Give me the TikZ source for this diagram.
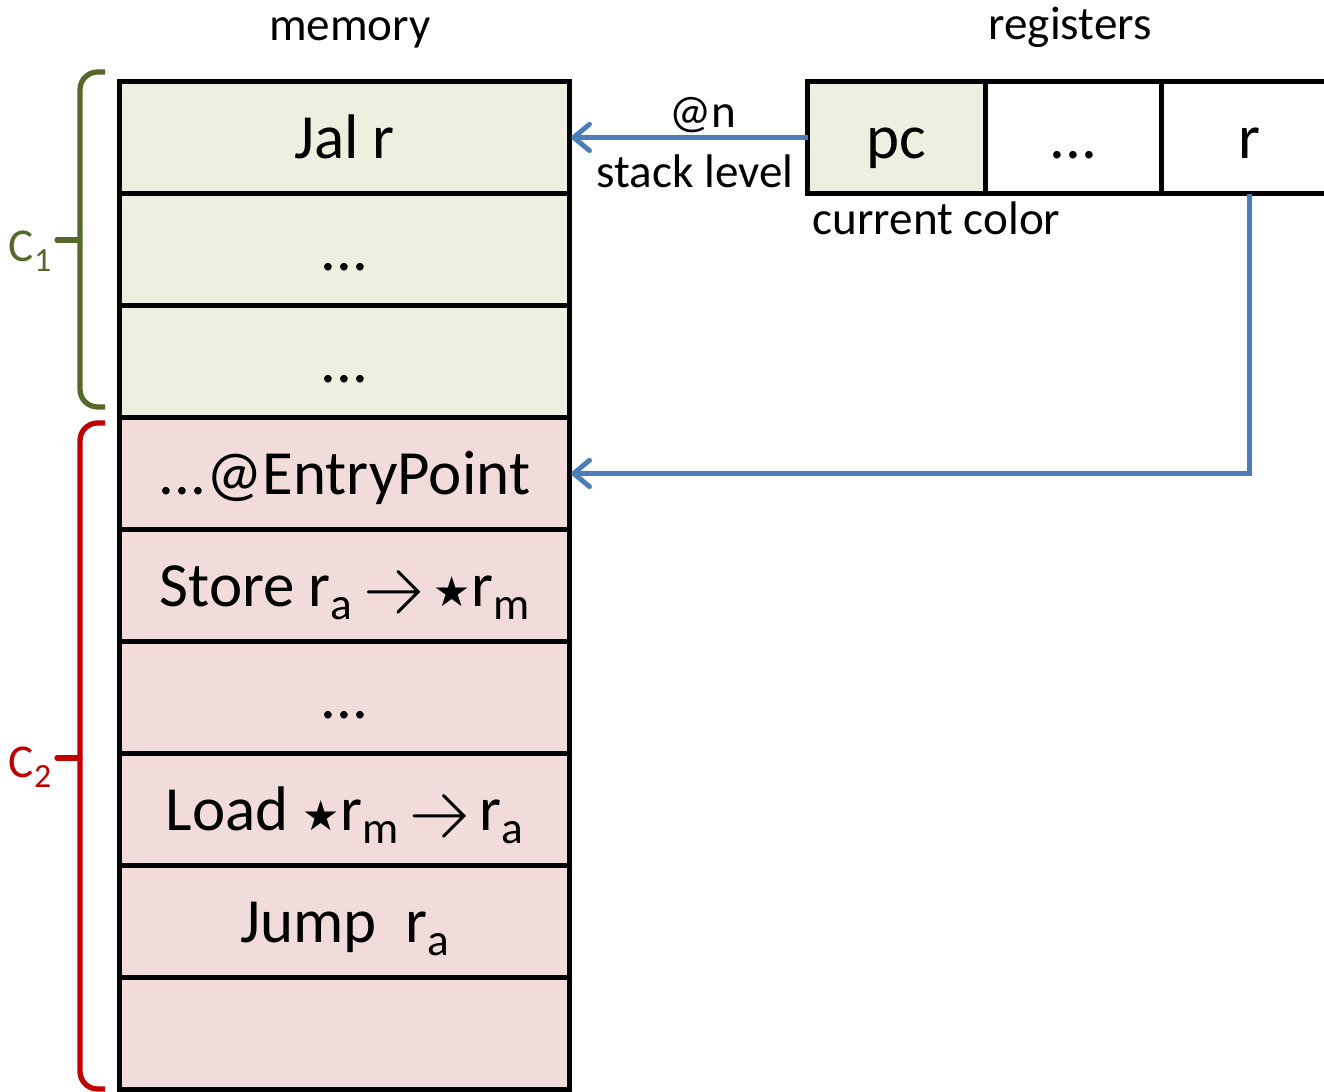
\documentclass[tikz,border=0pt]{standalone}
\usepackage{fontspec}
\setmainfont{Carlito}
\newfontfamily\symfont{DejaVu Sans}
\usetikzlibrary{arrows.meta,positioning}
\definecolor{memgreen}{HTML}{EBF1DE}
\definecolor{mempink}{HTML}{F2DCDB}
\definecolor{bracegreen}{HTML}{56692D}
\definecolor{bracered}{HTML}{C00000}
\definecolor{linkblue}{HTML}{4A7EBB}
\newcommand{\cellfont}{\fontsize{17.9pt}{20pt}\selectfont}
\newcommand{\labfont}{\fontsize{13.4pt}{16pt}\selectfont}
\newcommand{\lowsub}[1]{\raisebox{-0.2em}{\scalebox{0.72}{#1}}}
\newcommand{\toarr}{\tikz[baseline=0pt,x=1pt,y=1pt]
  \draw[black,line width=0.85pt,line cap=round,line join=miter]
    (0,4.2) -- (14.2,4.2) (8.4,10) -- (14.2,4.2) -- (8.4,-1.6);}
\newcommand{\deref}{{\symfont\scalebox{0.66}{★}}}

\begin{document}
\begin{tikzpicture}[x=0.01cm,y=-0.01cm,>={Straight Barb[length=4.5pt,width=7.5pt,round]},
  cell/.style={draw,line width=1.4pt,minimum width=4.49cm,minimum height=1.12cm,
    inner sep=0pt,outer sep=0pt,text height=12pt,text depth=0pt,font=\cellfont},
  link/.style={linkblue,line width=1.4pt},
  bracket/.style={line width=1.5pt,rounded corners=5pt},
  lab/.style={font=\labfont,inner sep=0pt}]
\useasboundingbox (0,0) rectangle (1324,1092);
% memory column
\foreach \i/\txt/\col in {1/{Jal r}/memgreen,2/{...}/memgreen,3/{...}/memgreen,
    4/{...@EntryPoint}/mempink,
    5/{Store r\lowsub{a}\ \toarr\ \deref r\lowsub{m}}/mempink,
    6/{...}/mempink,
    7/{Load \deref r\lowsub{m}\ \toarr\ r\lowsub{a}}/mempink,
    8/{Jump\ \ r\lowsub{a}}/mempink,9/{}/mempink}
  \node[cell,fill=\col] (m\i) at (344.5,{81.5+112*(\i-0.5)}) {\txt};
% registers
\node[cell,fill=memgreen,minimum width=1.77cm] (pc) at (896.5,137.5) {pc};
\node[cell,minimum width=1.76cm,right=0pt of pc] (dots) {...};
\node[cell,minimum width=1.76cm,right=0pt of dots] (reg) {r};
% titles
\node[lab,anchor=base] (memtitle) at (350,41) {memory};
\node[lab,anchor=base] (regtitle) at (1070,40) {registers};
% links
\draw[link,->,shorten >=0.6pt] (pc.west) -- (m1.east);
\node[lab,anchor=base] (atn) at (703,128) {@n};
\node[lab,anchor=base] (stack) at (695,188) {stack level};
\node[lab,anchor=base west] (curcol) at (812,235) {current color};
\draw[link,->,shorten >=0.6pt] (reg.south) |- (m4.east);
% colour brackets
\draw[bracket,bracegreen] (105,72) -- (80,72) -- (80,407) -- (105,407);
\draw[bracegreen,line width=1.5pt,line cap=round] (80,240) -- (57,240);
\node[lab,text=bracegreen,anchor=base east] (c1) at (52,262) {C\lowsub{1}};
\draw[bracket,bracered] (105,423) -- (80,423) -- (80,1089) -- (105,1089);
\draw[bracered,line width=1.5pt,line cap=round] (80,758) -- (57,758);
\node[lab,text=bracered,anchor=base east] (c2) at (52,778) {C\lowsub{2}};
\end{tikzpicture}
\end{document}
